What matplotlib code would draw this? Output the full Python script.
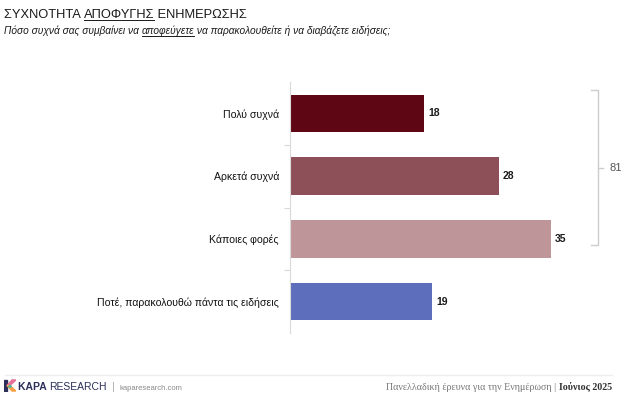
import matplotlib
matplotlib.use("Agg")
import matplotlib.pyplot as plt
from matplotlib.patches import Polygon

categories = ["Πολύ συχνά", "Αρκετά συχνά", "Κάποιες φορές", "Ποτέ, παρακολουθώ πάντα τις ειδήσεις"]
values = [18, 28, 35, 19]
colors = ["#5e0613", "#8e5058", "#be9699", "#5d6fbc"]
bracket_total = 81

title_parts = ["ΣΥΧΝΟΤΗΤΑ ", "ΑΠΟΦΥΓΗΣ", " ΕΝΗΜΕΡΩΣΗΣ"]
subtitle_parts = ["Πόσο συχνά σας συμβαίνει να ", "αποφεύγετε", " να παρακολουθείτε ή να διαβάζετε ειδήσεις;"]
footer_right = ["Πανελλαδική έρευνα για την Ενημέρωση | ", "Ιούνιος 2025"]

W, H = 626, 394
fig = plt.figure(figsize=(W / 100, H / 100), dpi=100)
plt.rcParams['font.family'] = ['Liberation Sans', 'DejaVu Sans']

def fx(px):
    return px / W

def fy(py):
    return 1 - py / H

ax = fig.add_axes([fx(290), fy(333), fx(623) - fx(290), (333 - 82) / H])
y = list(range(len(categories)))
ax.barh(y, values, height=0.6, color=colors, edgecolor="none")
ax.set_ylim(len(categories) - 0.5, -0.5)
ax.set_xlim(0, 44.7)
for s in ["top", "right", "bottom"]:
    ax.spines[s].set_visible(False)
ax.spines["left"].set_color("#d9d9d9")
ax.spines["left"].set_linewidth(0.8)
ax.set_xticks([])
ax.set_yticks(y)
ax.set_yticklabels(categories, fontsize=7.6, color="#111111")
ax.tick_params(axis="y", which="major", length=0, pad=8)
ax.set_yticks([i + 0.5 for i in range(len(categories) - 1)], minor=True)
ax.tick_params(axis="y", which="minor", length=4, color="#d9d9d9", width=0.8)
for i, v in enumerate(values):
    ax.text(v + 0.6, i, str(v), va="center", ha="left", fontsize=7.5, fontweight="bold", color="#1a1a1a")

# bracket
bx = fx(598)
ytop, ybot, ymid = fy(90), fy(245), fy(168)
fig.add_artist(plt.Line2D([fx(591), bx, bx, fx(591)], [ytop, ytop, ybot, ybot], color="#cccccc", lw=1.0))
fig.add_artist(plt.Line2D([bx, fx(603)], [ymid, ymid], color="#cccccc", lw=1.0))
fig.text(fx(609), ymid, str(bracket_total), fontsize=8, color="#555555", va="center", ha="left")

fig.canvas.draw()
renderer = fig.canvas.get_renderer()

def parts_text(parts, x0, y0, underline_idx, weights=None, **kw):
    x = x0
    for k, p in enumerate(parts):
        w = weights[k] if weights else "normal"
        t = fig.text(x, y0, p, fontweight=w, **kw)
        bb = t.get_window_extent(renderer=renderer)
        x1 = x + bb.width / W
        if k == underline_idx:
            ul = y0 - 0.15 * bb.height / H
            fig.add_artist(plt.Line2D([x, x1], [ul, ul], color=kw.get("color", "k"), lw=0.7))
        x = x1
    return x

parts_text(title_parts, fx(4), fy(18), 1, fontsize=9.3, color="#1a1a1a", va="baseline")
parts_text(subtitle_parts, fx(4), fy(34), 1, fontsize=7.3, style="italic", color="#1a1a1a", va="baseline")

# footer line
fig.add_artist(plt.Line2D([fx(5), fx(612)], [fy(375), fy(375)], color="#eeeeee", lw=1.0))

# logo
lax = fig.add_axes([fx(4), fy(392), fx(12), 13 / H])
lax.set_xlim(0, 12); lax.set_ylim(0, 14); lax.axis("off")
lax.add_patch(Polygon([[0, 1], [3, 1], [3, 13], [0, 13]], color="#2b2f5a"))
lax.add_patch(Polygon([[3, 7], [8, 13], [12, 13], [6, 7]], color="#e8739a"))
lax.add_patch(Polygon([[3, 7], [6, 7], [12, 1], [8, 1]], color="#f5a24a"))
lax.add_patch(Polygon([[4.5, 5.5], [6, 7], [7.5, 5.5]], color="#3fb5a6"))

parts_text(["KAPA ", "RESEARCH"], fx(18), fy(390), -1, weights=["bold", "normal"], fontsize=7.5, color="#2b2f5a", va="baseline")
fig.text(fx(112), fy(390), "|", fontsize=8, color="#aaaaaa", va="baseline")
fig.text(fx(120), fy(389.5), "kaparesearch.com", fontsize=5.5, color="#888888", va="baseline")

t2 = fig.text(fx(612), fy(389.5), footer_right[1], fontsize=7.2, fontweight="bold", color="#333333",
              family="Liberation Serif", ha="right", va="baseline")
bb2 = t2.get_window_extent(renderer=renderer)
fig.text(fx(612) - bb2.width / W, fy(389.5), footer_right[0], fontsize=7.2, color="#777777",
         family="Liberation Serif", ha="right", va="baseline")

fig.savefig("out.png", dpi=100, facecolor="white")
